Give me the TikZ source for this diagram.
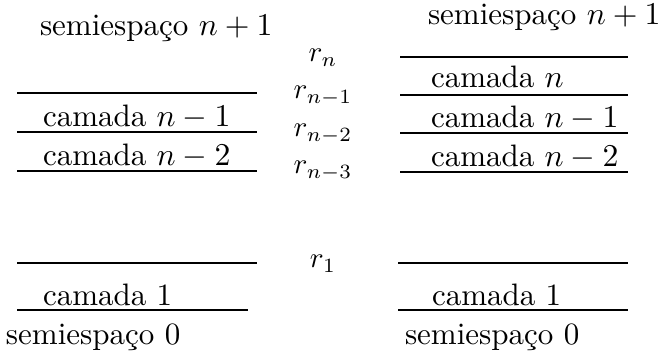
\documentclass[tikz,border=0pt]{standalone}
\begin{document}
\begin{tikzpicture}[x=0.345pt,y=-0.345pt,
  lbl/.style={anchor=base west,inner sep=0pt,outer sep=0pt,font=\fontsize{10.7}{13}\selectfont},
  rl/.style={anchor=base,inner sep=0pt,outer sep=0pt},
  iface/.style={line width=0.6pt}]
\useasboundingbox (0,0) rectangle (663,356);
% left column
\node[lbl] (ls1) at (40,36) {semiespaço $n+1$};
\node[lbl] (lc1) at (43,127) {camada $n-1$};
\node[lbl] (lc2) at (43,166) {camada $n-2$};
\node[lbl] (lcb) at (43,305) {camada 1};
\node[lbl] (ls0) at (6,344) {semiespaço 0};
\draw[iface] (17,93) -- (257,93);
\draw[iface] (17,132) -- (257,132);
\draw[iface] (17,171) -- (257,171);
\draw[iface] (17,263) -- (257,263);
\draw[iface] (17,310) -- (248,310);
% middle labels
\node[rl] (rn) at (323,62) {$r_n$};
\node[rl] (rn1) at (323,99) {$r_{n-1}$};
\node[rl] (rn2) at (323,137) {$r_{n-2}$};
\node[rl] (rn3) at (323,174) {$r_{n-3}$};
\node[rl] (r1) at (323,268) {$r_1$};
% right column
\node[lbl] (rs1) at (428,25) {semiespaço $n+1$};
\node[lbl] (rc0) at (431,88) {camada $n$};
\node[lbl] (rc1) at (431,128) {camada $n-1$};
\node[lbl] (rc2) at (431,167) {camada $n-2$};
\node[lbl] (rcb) at (432,305) {camada 1};
\node[lbl] (rs0) at (405,344) {semiespaço 0};
\draw[iface] (400,57) -- (628,57);
\draw[iface] (400,95) -- (628,95);
\draw[iface] (400,133) -- (628,133);
\draw[iface] (400,172) -- (628,172);
\draw[iface] (398,263) -- (628,263);
\draw[iface] (398,310) -- (628,310);
\end{tikzpicture}
\end{document}
